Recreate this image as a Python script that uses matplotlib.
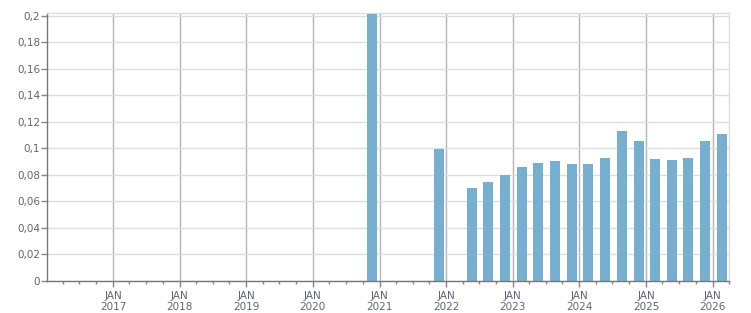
import numpy as np
import pandas as pd
import matplotlib
matplotlib.use('Agg')
import matplotlib.pyplot as plt
import matplotlib.dates as mdates
from matplotlib.ticker import FuncFormatter, MultipleLocator

# datos trimestrales
trimestres = ['2020Q4', '2021Q4', '2022Q2', '2022Q3', '2022Q4',
              '2023Q1', '2023Q2', '2023Q3', '2023Q4',
              '2024Q1', '2024Q2', '2024Q3', '2024Q4',
              '2025Q1', '2025Q2', '2025Q3', '2025Q4', '2026Q1']
valores = [0.201, 0.0995, 0.0701, 0.0747, 0.0800,
           0.0861, 0.0891, 0.0906, 0.0884,
           0.0884, 0.0929, 0.1127, 0.1051,
           0.0922, 0.0914, 0.0929, 0.1058, 0.1111]

color_barra = '#77afd1'
color_texto = '#62627a'

# las barras caen un poco antes del fin de cada trimestre
fechas = pd.PeriodIndex(trimestres, freq='Q').end_time.normalize() - pd.Timedelta(days=40)

fig = plt.figure(figsize=(7.51, 3.13), dpi=100)
ax = fig.add_axes([47/751, (313-281)/313, (729-47)/751, (281-13)/313])

ax.bar(fechas, valores, width=55, color=color_barra, zorder=3)

ax.set_xlim(pd.Timestamp('2016-01-05'), pd.Timestamp('2026-04-01'))
ax.set_ylim(0, 0.2019)

#%% ejes
ax.xaxis.set_major_locator(mdates.YearLocator())
ax.xaxis.set_major_formatter(FuncFormatter(lambda x, p: 'JAN\n' + mdates.num2date(x).strftime('%Y')))
ax.xaxis.set_minor_locator(mdates.MonthLocator(bymonth=[4, 7, 10]))

def fmt_y(v, p):
    s = ('%.2f' % v).rstrip('0').rstrip('.')
    return s.replace('.', ',')

ax.yaxis.set_major_locator(MultipleLocator(0.02))
ax.yaxis.set_major_formatter(FuncFormatter(fmt_y))

ax.tick_params(axis='x', which='major', length=4, width=1, color='#888888',
               labelsize=7.5, labelcolor=color_texto, pad=3)
ax.tick_params(axis='x', which='minor', length=2.5, width=1, color='#888888')
ax.tick_params(axis='y', length=4, width=1, color='#888888',
               labelsize=7.5, labelcolor=color_texto, pad=1)

ax.grid(axis='y', color='#dddddd', linewidth=1, zorder=0)
ax.grid(axis='x', which='major', color='#b4b4b4', linewidth=1, zorder=1)

for lado in ['left', 'bottom']:
    ax.spines[lado].set_color('#777777')
    ax.spines[lado].set_linewidth(1)
for lado in ['top', 'right']:
    ax.spines[lado].set_color('#dddddd')
    ax.spines[lado].set_linewidth(1)
ax.spines['bottom'].set_zorder(4)

fig.savefig('out.png', dpi=100)
